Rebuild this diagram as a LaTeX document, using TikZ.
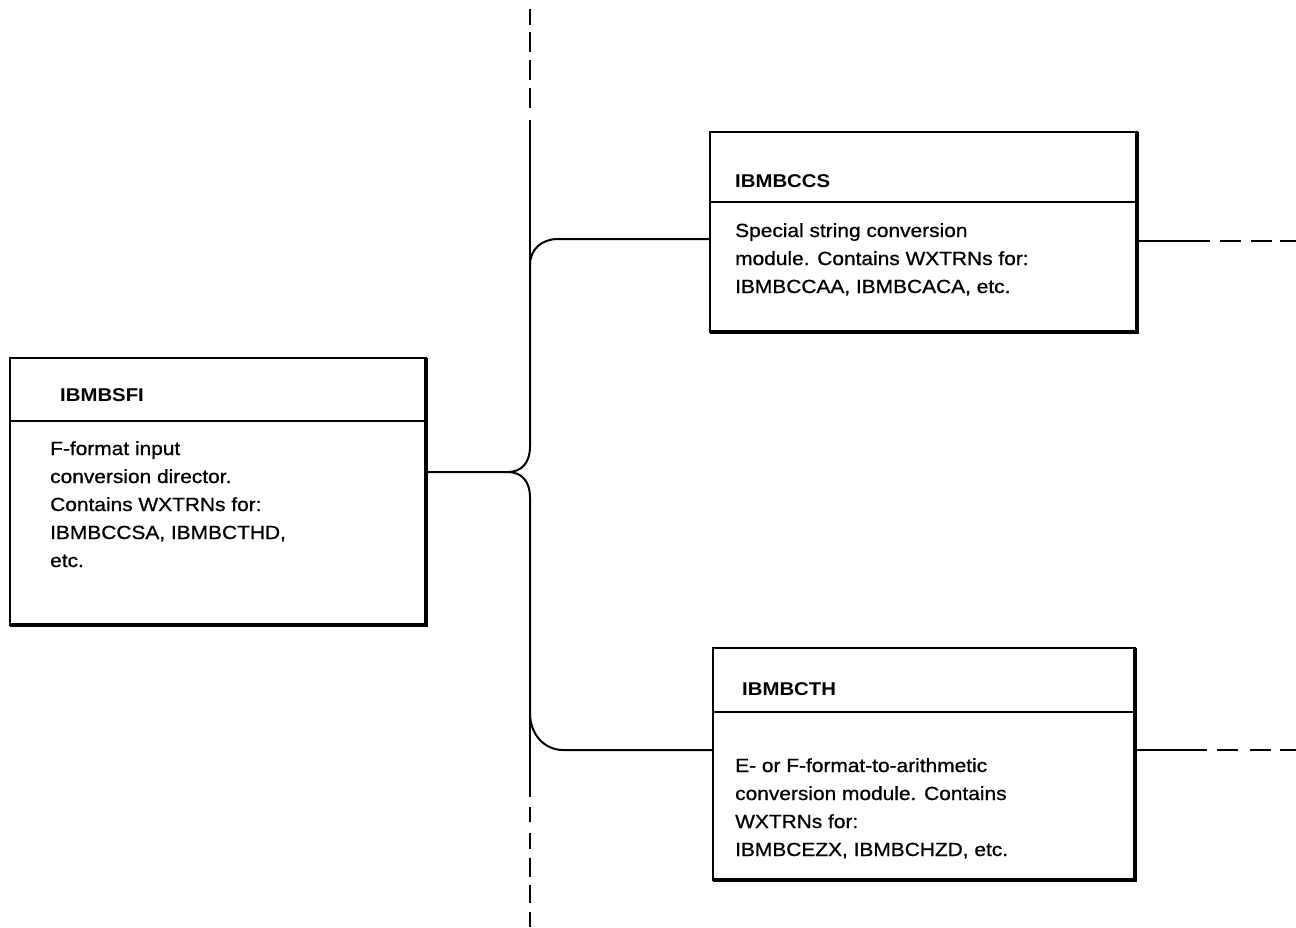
\documentclass[tikz,border=0pt]{standalone}
\usepackage{fontspec}
\setmainfont{Liberation Sans}[FakeStretch=1.1, UprightFeatures={FakeBold=0.8}]
\begin{document}
\begin{tikzpicture}[x=1pt,y=-1pt,
  box/.style={draw, line width=1.8pt, rectangle, inner sep=0pt, outer sep=0pt, anchor=north west},
  edge/.style={line width=4pt, line join=miter},
  divline/.style={line width=1.8pt},
  conn/.style={line width=2pt},
  txt/.style={anchor=base west, inner sep=0pt, font=\fontsize{19}{28}\selectfont},
  hd/.style={anchor=base west, inner sep=0pt, font=\bfseries\fontsize{18.5}{28}\selectfont}]
\useasboundingbox (0,0) rectangle (1296,927);

% boxes
\node[box, minimum width=416pt, minimum height=267pt] (sfi) at (10,358) {};
\node[box, minimum width=427pt, minimum height=200pt] (ccs) at (710,132) {};
\node[box, minimum width=422pt, minimum height=232pt] (cth) at (713,648) {};

\foreach \b/\d in {sfi/63, ccs/70, cth/64}{
  \draw[divline] ([yshift=-\d pt]\b.north west) -- ([yshift=-\d pt]\b.north east);
  \draw[edge] (\b.north east) -- (\b.south east) -- (\b.south west);
}

% texts
\node[hd] (sfih) at (60,401) {IBMBSFI};
\node[txt] (sfib) at (50,455) {\parbox[t]{360pt}{F-format input\\conversion director.\\Contains WXTRNs for:\\IBMBCCSA, IBMBCTHD,\\etc.}};

\node[hd] (ccsh) at (735,187) {IBMBCCS};
\node[txt] (ccsb) at (735,237) {\parbox[t]{390pt}{Special string conversion\\module. Contains WXTRNs for:\\IBMBCCAA, IBMBCACA, etc.}};

\node[hd] (cthh) at (742,695) {IBMBCTH};
\node[txt] (cthb) at (735,772) {\parbox[t]{390pt}{E- or F-format-to-arithmetic\\conversion module. Contains\\WXTRNs for:\\IBMBCEZX, IBMBCHZD, etc.}};

% connector coordinates
\coordinate (bj) at (508,472);
\coordinate (tb) at (558,239);
\coordinate (bb) at (563,750);
\coordinate (vt) at (530,9);
\coordinate (vb) at (530,927);
\coordinate (rt) at (1296,241);
\coordinate (rb) at (1296,750);

% brace connectors
\draw[conn] (sfi.east |- bj) -- (bj) .. controls (522,472) and (530,462) .. (530,447)
  -- (530,265) .. controls (530,249) and (542,239) .. (tb) -- (ccs.west |- tb);
\draw[conn] (bj) .. controls (522,472) and (530,482) .. (530,497)
  -- (530,713) .. controls (530,735) and (545,750) .. (bb) -- (cth.west |- bb);

% vertical boundary line
\draw[conn, dash pattern=on 16pt off 7pt on 20pt off 8pt on 20pt off 8pt on 20pt off 12pt on 300pt] (vt) -- (530,300);
\draw[conn, dash pattern=on 84pt off 10pt on 15pt off 11pt on 16pt off 9pt on 19pt off 8pt on 18pt off 9pt on 20pt] (530,713) -- (vb);

% outgoing dashed lines
\draw[conn, dash pattern=on 73pt off 10pt on 21pt off 10pt on 21pt off 8pt on 30pt] (ccs.east |- rt) -- (rt);
\draw[conn, dash pattern=on 72pt off 10pt on 21pt off 12pt on 21pt off 9pt on 30pt] (cth.east |- rb) -- (rb);
\end{tikzpicture}
\end{document}
